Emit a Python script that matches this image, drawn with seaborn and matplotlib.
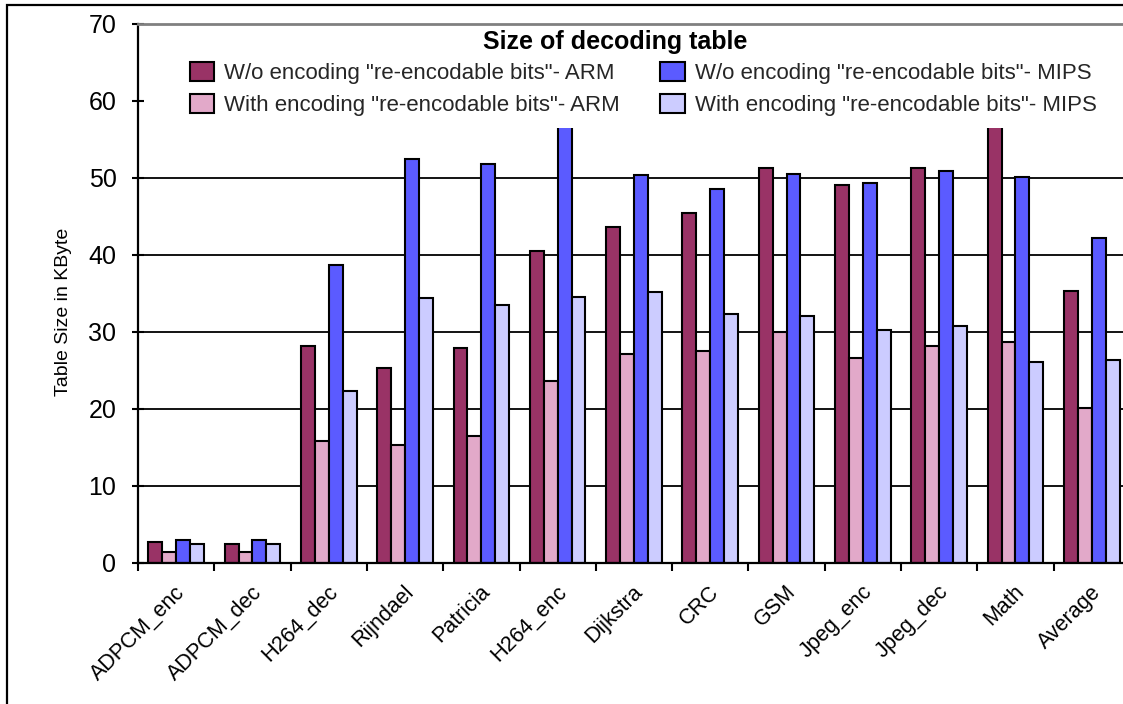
import numpy as np
import pandas as pd
import matplotlib
matplotlib.use("Agg")
import matplotlib.pyplot as plt
import matplotlib.transforms as mtransforms
import seaborn as sns
from matplotlib.patches import Rectangle

# Benchmarks on the x axis
benchmarks = ["ADPCM_enc", "ADPCM_dec", "H264_dec", "Rijndael", "Patricia",
              "H264_enc", "Dijkstra", "CRC", "GSM", "Jpeg_enc", "Jpeg_dec",
              "Math", "Average"]

# Decoding table size in KByte
arm_plain = [2.6, 2.45, 28.1, 25.2, 27.8, 40.5, 43.6, 45.4, 51.2, 49.0, 51.2, 57.5, 35.3]
arm_enc = [1.3, 1.3, 15.8, 15.2, 16.4, 23.6, 27.1, 27.5, 30.0, 26.6, 28.1, 28.7, 20.1]
mips_plain = [2.9, 2.9, 38.6, 52.4, 51.7, 58.0, 50.3, 48.5, 50.4, 49.3, 50.9, 50.1, 42.1]
mips_enc = [2.4, 2.4, 22.3, 34.3, 33.5, 34.5, 35.1, 32.3, 32.0, 30.2, 30.7, 26.1, 26.3]

series_names = [
    'W/o encoding "re-encodable bits"- ARM',
    'With encoding "re-encodable bits"- ARM',
    'W/o encoding "re-encodable bits"- MIPS',
    'With encoding "re-encodable bits"- MIPS',
]
series_colors = ["#993366", "#E2A9C9", "#5B5BFF", "#CCCCFF"]

frames = []
for name, vals in zip(series_names, [arm_plain, arm_enc, mips_plain, mips_enc]):
    frames.append(pd.DataFrame({"benchmark": benchmarks, "size": vals, "series": name}))
df = pd.concat(frames, ignore_index=True)

sns.set_theme(style="white")
plt.rcParams["font.family"] = ["Liberation Sans", "DejaVu Sans"]

W, H = 1123, 704
fig = plt.figure(figsize=(W / 100, H / 100), dpi=100)
cat_px = 76.3
ax = fig.add_axes([138 / W, 141.5 / H, 13 * cat_px / W, 539 / H])

sns.barplot(data=df, x="benchmark", y="size", hue="series",
            order=benchmarks, hue_order=series_names, palette=series_colors,
            width=0.73, saturation=1, edgecolor="black", linewidth=1.5,
            errorbar=None, ax=ax, zorder=2)

ax.set_xlim(-0.5, 12.5)
ax.set_ylim(0, 70)
ax.set_yticks(range(0, 71, 10))
ax.set_axisbelow(True)
ax.yaxis.grid(True, color="black", linewidth=1.3)
ax.xaxis.grid(False)

for side in ["left", "bottom"]:
    ax.spines[side].set_color("black")
    ax.spines[side].set_linewidth(1.6)
ax.spines["top"].set_color("#808080")
ax.spines["top"].set_linewidth(2)
ax.spines["right"].set_visible(False)

ax.tick_params(axis="y", direction="inout", length=9, width=1.5,
               labelsize=18, pad=11, colors="black", left=True)
ax.set_xticks(np.arange(-0.5, 12.6, 1), minor=True)
ax.tick_params(axis="x", which="major", length=0, labelsize=15.5, pad=19,
               colors="black")
ax.tick_params(axis="x", which="minor", direction="out", length=6, width=1.5,
               color="black", bottom=True)
shift = mtransforms.ScaledTranslation(6 / 100, 0, fig.dpi_scale_trans)
for lbl in ax.get_xticklabels():
    lbl.set_rotation(45)
    lbl.set_ha("right")
    lbl.set_va("center")
    lbl.set_rotation_mode("anchor")
    lbl.set_transform(lbl.get_transform() + shift)

ax.set_xlabel("")
ax.set_ylabel("Table Size in KByte", fontsize=14, color="black")
ax.yaxis.set_label_coords((72 - 138) / (13 * cat_px), 0.465)

# White legend area over the top of the plot
ax.add_patch(Rectangle((0.006, 56.4 / 70), 1.2, 1, transform=ax.transAxes,
                       facecolor="white", edgecolor="none", zorder=2.3,
                       clip_on=False))

handles, labels = ax.get_legend_handles_labels()
if ax.get_legend() is not None:
    ax.get_legend().remove()
fig.legend(handles, labels, ncol=2, loc="upper left",
           bbox_to_anchor=(190 / W, 1 - 62 / H), bbox_transform=fig.transFigure,
           frameon=False, fontsize=16,
           handlelength=1.1, handleheight=0.95, handletextpad=0.45,
           columnspacing=1.8, labelspacing=0.45, borderpad=0, borderaxespad=0)
fig.text(615 / W, 1 - 42 / H, "Size of decoding table", ha="center", va="center",
         fontsize=18, fontweight="bold", color="black")

# Outer frame
fig.add_artist(Rectangle((7 / W, -0.5), 2, 1.5 - 5 / H, transform=fig.transFigure,
                         fill=False, edgecolor="black", linewidth=1.6))

fig.savefig("out.png", dpi=100, facecolor="white")
